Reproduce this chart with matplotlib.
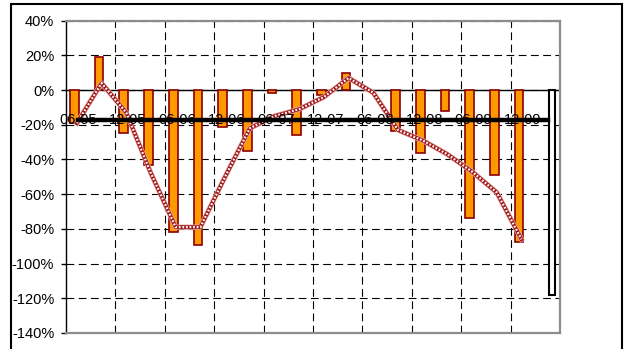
import numpy as np
import matplotlib.pyplot as plt
from matplotlib.patches import Rectangle

# half-year periods, labelled every second one
tick_labels = ['06-05', '12-05', '06-06', '12-06', '06-07',
               '12-07', '06-08', '12-08', '06-09', '12-09']

# orange bars: change per period (%), nan = no bar
change = [-19, 19, -25, -43, -82, -89, -21, -35, -1.5, -26,
          -3, 10, np.nan, -23.5, -36, -12, -74, -49, -87.5, np.nan]

# hatched red line (smoothed trend, %)
trend = [-19, 4, -13, -48, -79, -79, -50, -22, -15, -11,
         -4, 7, -1.5, -23, -29, -37, -47, -59, -86]

# white bar only in the last period
total = [np.nan] * 19 + [-118]

# average level (thick black line)
average = [-17] * 20

n = len(change)
x = np.arange(n)

plt.rcParams['font.family'] = ['Liberation Sans', 'DejaVu Sans']

fig = plt.figure(figsize=(6.25, 3.49), dpi=100)
ax = fig.add_axes([66 / 625, 1 - 333 / 349, 494 / 625, (333 - 20.7) / 349])

# bars
ax.bar(x - 0.16, change, width=0.35, color='#FF9900', edgecolor='#8B0000',
       linewidth=1.2, zorder=3)
ax.bar(x + 0.165, total, width=0.26, color='white', edgecolor='black',
       linewidth=1.5, zorder=3)

# hatched-looking trend line (red/white checks)
xt = np.arange(len(trend)) - 0.06
ax.plot(xt, trend, color='#e0a8a8', linewidth=3.8, zorder=4,
        solid_joinstyle='round')
ax.plot(xt, trend, color='#a31515', linewidth=2.7, zorder=4,
        solid_joinstyle='round')
ax.plot(xt, trend, color='white', linewidth=1.6, linestyle=(0, (0.8, 0.8)),
        zorder=4)

# average line
ax.plot(x, average, color='black', linewidth=3.2, zorder=5)

# zero line acts as the category axis
ax.axhline(0, color='black', linewidth=1, zorder=2)

ax.set_xlim(-0.5, n - 0.5)
ax.set_ylim(-140, 40)

ax.set_yticks(np.arange(-140, 41, 20))
ax.set_yticklabels([f'{v}%' for v in range(-140, 41, 20)], fontsize=10.5)
ax.tick_params(axis='y', length=3.5, width=1, pad=5, colors='black')

ax.set_xticks([])
ax.set_xticks(np.arange(1.5, n - 1, 2), minor=True)
ax.tick_params(axis='x', which='both', length=0, labelbottom=False)
for i, lab in enumerate(tick_labels):
    ax.text(2 * i, -17, lab, ha='center', va='center', fontsize=10.5,
            zorder=4.5)

ax.grid(axis='y', which='major', color='black', linestyle=(0, (7, 4)),
        linewidth=0.8, zorder=1)
ax.grid(axis='x', which='minor', color='black', linestyle=(0, (7, 4)),
        linewidth=0.8, zorder=1)
ax.set_axisbelow(True)

for side in ['top', 'right', 'bottom']:
    ax.spines[side].set_color('#8c8c8c')
    ax.spines[side].set_linewidth(1.6)
ax.spines['left'].set_color('black')
ax.spines['left'].set_linewidth(1)

# chart-area frame
fig.patches.append(Rectangle((11 / 625, -0.05), 611 / 625, 1.05 - 4 / 349,
                             transform=fig.transFigure, fill=False,
                             edgecolor='black', linewidth=1.5))

fig.savefig('out.png', dpi=100)
